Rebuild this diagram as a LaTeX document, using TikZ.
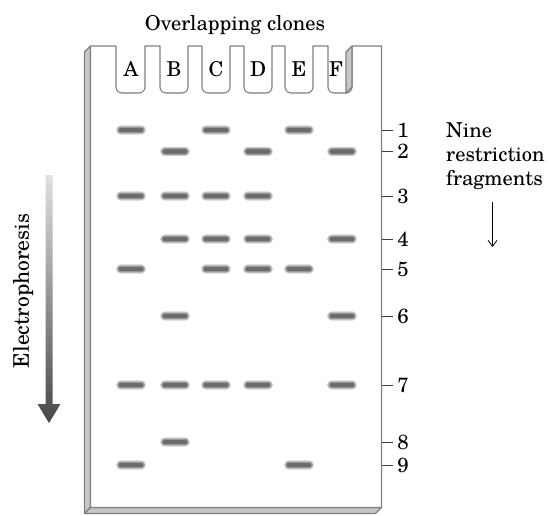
\documentclass[tikz,border=0pt]{standalone}
\usepackage{fontspec}
\setmainfont{TeX Gyre Schola}
\usetikzlibrary{arrows.meta}
\newcommand\wellpath[2]{-- (#1,46) -- (#1,87) arc[start angle=180,end angle=90,radius=6] -- (#2-6,93) arc[start angle=90,end angle=0,radius=6] -- (#2,46)}
\begin{document}
\begin{tikzpicture}[x=1pt,y=-1pt,
  gelline/.style={draw=black!50, line width=1.1pt, line join=round},
  sidefill/.style={gelline, fill=black!22},
  bandnode/.style={fill=black!58, rounded corners=2.7pt, minimum width=26pt, minimum height=5.5pt, inner sep=0pt,
     draw=black!40, line width=1.2pt, preaction={draw=black!18, line width=3.6pt}},
  lbl/.style={font=\fontsize{20.5}{24}\selectfont, inner sep=0pt},
  tickline/.style={draw=black!75, line width=1pt}]
\useasboundingbox (0,0) rectangle (549,515);
% side faces of the gel slab
\draw[sidefill] (90.5,46) -- (84.5,52) -- (84.5,513.5) -- (90.5,507.5) -- cycle;
\draw[sidefill] (90.5,507.5) -- (84.5,513.5) -- (375.5,513.5) -- (381.5,507.5) -- cycle;
% front face with wells
\draw[gelline, fill=white] (90.5,46) \wellpath{116}{145} \wellpath{160}{188} \wellpath{202}{230} \wellpath{244}{272} \wellpath{285}{313} \wellpath{328}{352} -- (381.5,46) -- (381.5,507.5) -- (90.5,507.5) -- cycle;
% inner wall of well F
\draw[sidefill] (352,46) -- (346,52) -- (346,93) -- (352,87) -- cycle;
% lane labels
\node[lbl] (lA) at (131,69) {A};
\node[lbl] (lB) at (174,69) {B};
\node[lbl] (lC) at (216,69) {C};
\node[lbl] (lD) at (258,69) {D};
\node[lbl] (lE) at (299,69) {E};
\node[lbl] (lF) at (336,69) {F};
\node[lbl, anchor=base] (title) at (235,30) {Overlapping clones};
% bands
\foreach \l/\x/\rs in {A/131/{1,3,5,7,9}, B/175/{2,3,4,6,7,8}, C/216/{1,3,4,5,7}, D/258/{2,3,4,5,7}, E/299/{1,5,9}, F/342/{2,4,6,7}} {
  \foreach \r in \rs {
    \pgfmathsetmacro\yy{{130,151.5,196,239,269,316,385,442,465}[\r-1]}
    \node[bandnode] (band-\l-\r) at (\x,\yy) {};
  }
}
% ticks and fragment numbers
\foreach \r/\y in {1/130,2/151.5,3/196,4/239,5/269,6/316,7/385,8/442,9/465} {
  \coordinate (t\r) at (381.5,\y);
  \draw[tickline] (t\r) -- ++(11.5,0);
  \node[lbl] (n\r) at (403,\y) {\r};
}
% right text
\node[lbl, align=left, anchor=north west] (nine) at (446,122.5) {Nine\\restriction\\fragments};
\coordinate (fa) at (492.5,202);
\coordinate (fb) at (492.5,247);
\draw[line width=0.8pt, -{Straight Barb[length=6pt,width=9pt]}] (fa) -- (fb);
% electrophoresis arrow
\shade[top color=black!12, bottom color=black!72] (45.5,175) -- (52.5,175) -- (52.5,404) -- (60.5,404) -- (49,423) -- (37.5,404) -- (45.5,404) -- cycle;
\node[lbl, font=\fontsize{21.5}{24}\selectfont, rotate=90] (elec) at (23,291) {Electrophoresis};
\end{tikzpicture}
\end{document}
